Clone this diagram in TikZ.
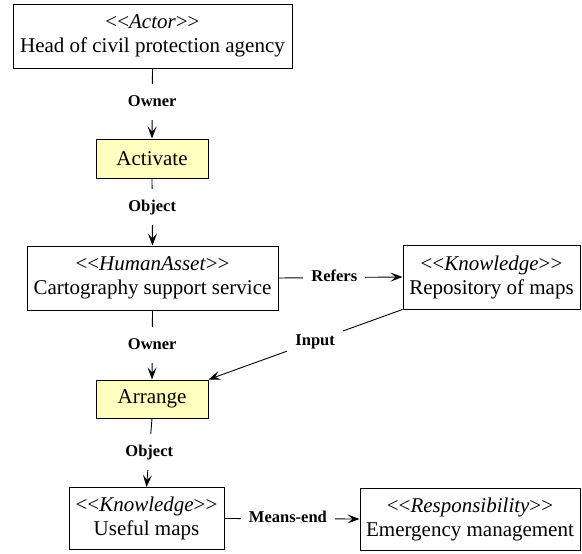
\documentclass[tikz,border=0pt]{standalone}
\usepackage{fontspec}
\setmainfont{Liberation Serif}
\usetikzlibrary{arrows.meta}
\definecolor{actfill}{RGB}{255,255,192}
% stereotype line: <<Name>> with the name in italics (kerns keep << from becoming a guillemet)
\newcommand{\stereo}[1]{\textless\kern0pt\textless\textit{#1}\textgreater\kern0pt\textgreater}

\begin{document}
\begin{tikzpicture}[x=1pt,y=-1pt,
  box/.style={draw, line width=1pt, fill=white, align=center, inner sep=0pt,
              font=\fontsize{21}{24}\selectfont},
  act/.style={box, fill=actfill},
  rel/.style={line width=0.9pt},
  arr/.style={rel, -{Stealth[length=12pt,width=9pt,inset=5pt]}},
  lbl/.style={fill=white, inner xsep=8pt, inner ysep=10pt, text height=12pt,
              text depth=4pt, font=\fontsize{16.5}{19}\selectfont\bfseries}
]
\useasboundingbox (0,0) rectangle (582,554);

% elements
\node[box, minimum width=279pt, minimum height=64pt] (actor) at (152.5,36)
  {\stereo{Actor}\\Head of civil protection agency};
\node[act, minimum width=112pt, minimum height=39pt] (activate) at (152,158.5) {Activate};
\node[box, minimum width=251pt, minimum height=64pt] (carto) at (152.5,278)
  {\stereo{HumanAsset}\\Cartography support service};
\node[box, minimum width=177pt, minimum height=64pt] (repo) at (491.5,277)
  {\stereo{Knowledge}\\Repository of maps};
\node[act, minimum width=112pt, minimum height=38pt] (arrange) at (152,399) {Arrange};
\node[box, minimum width=155pt, minimum height=62pt] (useful) at (146.5,518.5)
  {\stereo{Knowledge}\\Useful maps};
\node[box, minimum width=220pt, minimum height=62pt] (emerg) at (470,519)
  {\stereo{Responsibility}\\Emergency management};

% relations
\draw[arr] (actor.south) -- node[lbl, pos=0.48] {Owner} (activate.north);
\draw[arr] (activate.south) -- node[lbl, pos=0.43] {Object} (carto.north);
\draw[arr] (carto.east) -- node[lbl, pos=0.45] {Refers} (repo.west);
\draw[arr] (carto.south) -- node[lbl, pos=0.5] {Owner} (arrange.north);
\draw[arr] (repo.south west) -- node[lbl, pos=0.45] {Input} (arrange.north east);
\draw[arr] (arrange.south) -- node[lbl, pos=0.49] {Object} (useful.north);
\draw[arr] (useful.east) -- node[lbl, pos=0.47] {Means-end} (emerg.west);
\end{tikzpicture}
\end{document}
